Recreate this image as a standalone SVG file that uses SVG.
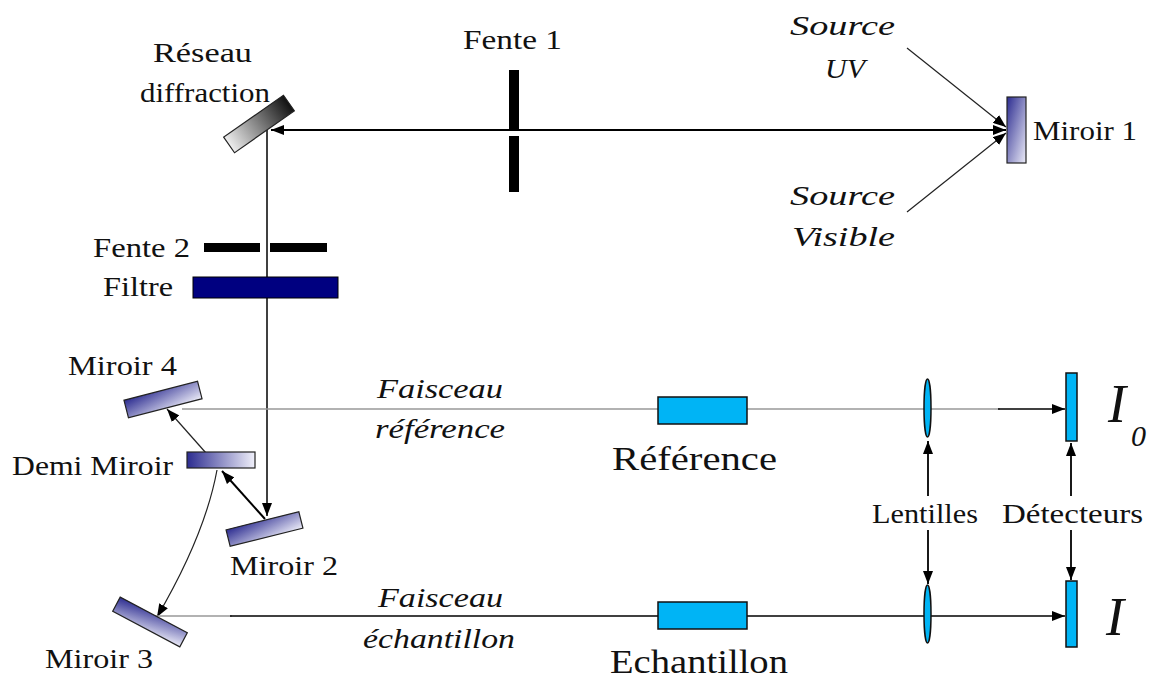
<svg xmlns="http://www.w3.org/2000/svg" width="1149" height="681" viewBox="0 0 1149 681" font-family="'Liberation Serif', 'Times New Roman', Times, 'DejaVu Serif', 'Noto Serif', serif">
<style>
.t{font-family:'Liberation Serif', 'Times New Roman', Times, 'DejaVu Serif', 'Noto Serif', serif;font-size:28px;fill:#111}
.i{font-style:italic}
.mir{stroke:#222;stroke-width:1.2}
.cyan{fill:#00B4F5;stroke:#111;stroke-width:1.5}
.beam{fill:none;stroke:#000;stroke-width:1.8}
.thin{fill:none;stroke:#222;stroke-width:1.2}
.gray{fill:none;stroke:#999;stroke-width:1.5}
</style>
<defs>
<marker id="ah" viewBox="0 0 10 10" refX="10" refY="5" markerWidth="13" markerHeight="10" markerUnits="userSpaceOnUse" orient="auto-start-reverse" preserveAspectRatio="none">
<path d="M0,0 L10,5 L0,10 z" fill="#000"/>
</marker>
<linearGradient id="gBlue" x1="0" y1="0" x2="1" y2="1">
<stop offset="0" stop-color="#2c2c90"/>
<stop offset="1" stop-color="#ececf8"/>
</linearGradient>
<linearGradient id="gBlueH" x1="0" y1="0" x2="1" y2="0">
<stop offset="0" stop-color="#2c2c90"/>
<stop offset="1" stop-color="#f0f0fa"/>
</linearGradient>
<linearGradient id="gGray" x1="0" y1="0.5" x2="1" y2="0.5">
<stop offset="0" stop-color="#eeeeee"/>
<stop offset="1" stop-color="#111111"/>
</linearGradient>
</defs>
<rect width="1149" height="681" fill="#fff"/>

<g id="connectors">
<line class="beam" x1="271" y1="130" x2="1006" y2="130" marker-start="url(#ah)" marker-end="url(#ah)"/>
<line class="thin" x1="907" y1="48" x2="1006" y2="127" marker-end="url(#ah)"/>
<line class="thin" x1="907" y1="212" x2="1006" y2="133" marker-end="url(#ah)"/>
<line class="beam" style="stroke-width:1.5" x1="267" y1="130" x2="267" y2="516" marker-end="url(#ah)"/>
<line class="beam" style="stroke-width:2" x1="265" y1="519" x2="222" y2="471" marker-end="url(#ah)"/>
<line class="thin" x1="206" y1="453" x2="167" y2="409" marker-end="url(#ah)"/>
<path class="thin" d="M217,470 Q205,535 157,617" marker-end="url(#ah)"/>
<line class="gray" x1="182" y1="409" x2="1000" y2="409"/>
<line class="beam" style="stroke-width:1.5" x1="998" y1="409" x2="1065" y2="409" marker-end="url(#ah)"/>
<line class="gray" x1="155" y1="616" x2="232" y2="616"/>
<line class="beam" style="stroke-width:1.5" x1="230" y1="616" x2="1065" y2="616" marker-end="url(#ah)"/>
<line class="beam" x1="928" y1="496" x2="928" y2="441" marker-end="url(#ah)"/>
<line class="beam" x1="928" y1="530" x2="928" y2="584" marker-end="url(#ah)"/>
<line class="beam" x1="1071" y1="496" x2="1071" y2="443" marker-end="url(#ah)"/>
<line class="beam" x1="1071" y1="530" x2="1071" y2="580" marker-end="url(#ah)"/>
</g>

<g id="reseau">
<rect class="mir" x="-36.5" y="-9.5" width="73" height="19" fill="url(#gGray)" transform="translate(259,124) rotate(-35)"/>
<text class="t" x="153" y="62" textLength="99" lengthAdjust="spacingAndGlyphs">Réseau</text>
<text class="t" x="140" y="102" textLength="130" lengthAdjust="spacingAndGlyphs">diffraction</text>
</g>

<g id="fente1">
<rect x="509" y="70" width="10" height="60" fill="#000"/>
<rect x="509" y="136" width="10" height="56" fill="#000"/>
<text class="t" x="463" y="49" textLength="99" lengthAdjust="spacingAndGlyphs">Fente 1</text>
</g>

<g id="miroir1">
<rect class="mir" x="1007" y="97" width="19" height="66" fill="url(#gBlue)"/>
<text class="t" x="1033" y="140" textLength="104" lengthAdjust="spacingAndGlyphs">Miroir 1</text>
</g>

<g id="sourceUV">
<text class="t i" x="790" y="35" textLength="105" lengthAdjust="spacingAndGlyphs">Source</text>
<text class="t i" x="825" y="78" textLength="40" lengthAdjust="spacingAndGlyphs">UV</text>
</g>

<g id="sourceVisible">
<text class="t i" x="790" y="205" textLength="105" lengthAdjust="spacingAndGlyphs">Source</text>
<text class="t i" x="792" y="246" textLength="103" lengthAdjust="spacingAndGlyphs">Visible</text>
</g>

<g id="fente2">
<rect x="204" y="243" width="56" height="9" fill="#000"/>
<rect x="270" y="243" width="57" height="9" fill="#000"/>
<text class="t" x="93" y="257" textLength="97" lengthAdjust="spacingAndGlyphs">Fente 2</text>
</g>

<g id="filtre">
<rect x="193" y="277" width="145" height="21" fill="#000080" stroke="#000" stroke-width="1"/>
<text class="t" x="103" y="296" textLength="70" lengthAdjust="spacingAndGlyphs">Filtre</text>
</g>

<g id="miroir4">
<rect class="mir" x="-38" y="-9" width="76" height="18" fill="url(#gBlue)" transform="translate(163,399.5) rotate(-14.5)"/>
<text class="t" x="68" y="375" textLength="109" lengthAdjust="spacingAndGlyphs">Miroir 4</text>
</g>

<g id="demiMiroir">
<rect class="mir" x="187" y="452" width="68" height="16" fill="url(#gBlueH)"/>
<text class="t" x="12" y="475" textLength="161" lengthAdjust="spacingAndGlyphs">Demi Miroir</text>
</g>

<g id="miroir2">
<rect class="mir" x="-37.5" y="-8.5" width="75" height="17" fill="url(#gBlue)" transform="translate(264.5,529) rotate(-14)"/>
<text class="t" x="230" y="575" textLength="108" lengthAdjust="spacingAndGlyphs">Miroir 2</text>
</g>

<g id="miroir3">
<rect class="mir" x="-38" y="-8" width="76" height="16" fill="url(#gBlue)" transform="translate(150,622) rotate(28)"/>
<text class="t" x="45" y="668" textLength="108" lengthAdjust="spacingAndGlyphs">Miroir 3</text>
</g>

<g id="faisceauReference">
<text class="t i" x="377" y="398" textLength="126" lengthAdjust="spacingAndGlyphs">Faisceau</text>
<text class="t i" x="375" y="438" textLength="130" lengthAdjust="spacingAndGlyphs">référence</text>
</g>

<g id="faisceauEchantillon">
<text class="t i" x="378" y="607" textLength="125" lengthAdjust="spacingAndGlyphs">Faisceau</text>
<text class="t i" x="363" y="648" textLength="152" lengthAdjust="spacingAndGlyphs">échantillon</text>
</g>

<g id="reference">
<rect class="cyan" x="658" y="397" width="89" height="27"/>
<text class="t" style="font-size:34px" x="612" y="470" textLength="165" lengthAdjust="spacingAndGlyphs">Référence</text>
</g>

<g id="echantillon">
<rect class="cyan" x="658" y="602" width="89" height="27"/>
<text class="t" style="font-size:33px" x="610" y="673" textLength="178" lengthAdjust="spacingAndGlyphs">Echantillon</text>
</g>

<g id="lentilles">
<ellipse class="cyan" cx="927.5" cy="408" rx="3.5" ry="29"/>
<ellipse class="cyan" cx="927.5" cy="614" rx="3.5" ry="29"/>
<text class="t" x="872" y="523" textLength="106" lengthAdjust="spacingAndGlyphs">Lentilles</text>
</g>

<g id="detecteurs">
<rect class="cyan" x="1066" y="373" width="11" height="68"/>
<rect class="cyan" x="1066" y="581" width="11" height="66"/>
<text class="t" x="1002" y="523" textLength="141" lengthAdjust="spacingAndGlyphs">Détecteurs</text>
</g>

<g id="I0">
<text class="t i" style="font-size:54px" x="1108" y="422">I</text>
<text class="t i" style="font-size:30px" x="1131" y="446">0</text>
</g>

<g id="I">
<text class="t i" style="font-size:54px" x="1106" y="635">I</text>
</g>
</svg>
